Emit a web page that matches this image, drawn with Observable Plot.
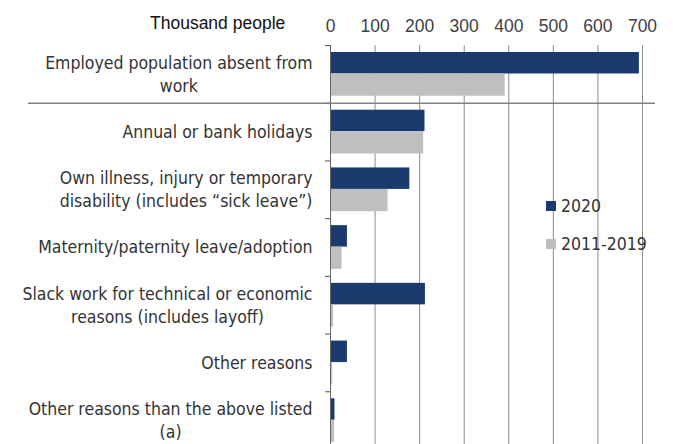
<!DOCTYPE html>
<html>
<head>
<meta charset="utf-8">
<script src="https://cdn.jsdelivr.net/npm/d3@7"></script>
<script src="https://cdn.jsdelivr.net/npm/@observablehq/plot@0.6"></script>
<style>
  html, body { margin: 0; padding: 0; background: #fff; overflow: hidden; }
  #wrap { position: relative; width: 673px; height: 444px; }
  .ov { position: absolute; font-size: 17.5px; color: #333; white-space: nowrap; line-height: 18px; }
  .lg { font-family: "DejaVu Sans Condensed", "DejaVu Sans", sans-serif; }
  .ar { font-family: "Liberation Sans", Arial, sans-serif; }
  .sw { position: absolute; width: 10px; height: 10px; }
</style>
</head>
<body>
<div id="wrap"></div>
<script>
const categories = [
  "Employed population absent from\nwork",
  "Annual or bank holidays",
  "Own illness, injury or temporary\ndisability (includes “sick leave”)",
  "Maternity/paternity leave/adoption",
  "Slack work for technical or economic\nreasons (includes layoff)",
  "Other reasons",
  "Other reasons than the above listed\n(a)"
];
const values2020 = [693, 212, 178, 38, 213, 38, 10];
const values2011_2019 = [392, 209, 129, 26, 7, 5, 9];
const seriesNames = ["2020", "2011-2019"];
const seriesColors = ["#1b3b6f", "#bfbfbf"];
const xTicks = [0, 100, 200, 300, 400, 500, 600, 700];
const unitLabel = "Thousand people";

const LABEL_FONT = '"DejaVu Sans Condensed", "DejaVu Sans", sans-serif';
const TICK_FONT = '"Liberation Sans", Arial, sans-serif';
const W = 673, H = 444, mTop = 45, mBottom = -5, mLeft = 330, mRight = 31;
const bw = (H - mTop - mBottom) / categories.length;

const rows2020 = categories.map((c, i) => ({category: c, value: values2020[i]}));
const rowsPast = categories.map((c, i) => ({category: c, value: values2011_2019[i]}));

// measure label widths so multi-line labels are centred inside a right-aligned block
const ctx = document.createElement("canvas").getContext("2d");
ctx.font = `17.5px ${LABEL_FONT}`;
const labelMarks = categories.map(c => {
  const w = Math.max(...c.split("\n").map(s => ctx.measureText(s).width));
  return Plot.text([c], {
    y: d => d, text: d => d, frameAnchor: "left", textAnchor: "middle",
    dx: -(18 + w / 2), dy: -1.5, lineHeight: 1.31, fill: "#333",
    fontFamily: LABEL_FONT, fontSize: 17.5
  });
});

const chart = Plot.plot({
  width: W, height: H,
  marginTop: mTop, marginBottom: mBottom, marginLeft: mLeft, marginRight: mRight,
  style: {fontFamily: TICK_FONT, fontSize: "17.5px", color: "#404040", background: "white"},
  x: {domain: [0, 700], axis: "top", ticks: xTicks, tickSize: 0, tickPadding: 14, label: null},
  y: {domain: categories, axis: null, padding: 0, round: false},
  marks: [
    Plot.ruleX(xTicks.slice(1), {stroke: "#8c8c8c", strokeWidth: 1}),
    Plot.barX(rows2020, {y: "category", x: "value", fill: seriesColors[0], insetTop: 7, insetBottom: bw - 28.5}),
    Plot.barX(rowsPast, {y: "category", x: "value", fill: seriesColors[1], insetTop: 28.5, insetBottom: 7}),
    Plot.ruleX([0], {stroke: "#666", strokeWidth: 1}),
    Plot.ruleY(categories, {y: d => d, dy: -bw / 2, x1: 0, x2: 0, insetLeft: -5, stroke: "#555"}),
    Plot.ruleY([categories[1]], {y: d => d, dy: -bw / 2, x1: 0, x2: 700, insetLeft: -302, insetRight: -13, stroke: "#808080", strokeWidth: 1.5}),
    ...labelMarks
  ]
});

const wrap = document.getElementById("wrap");
wrap.appendChild(chart);

const t = document.createElement("div");
t.className = "ov ar"; t.textContent = unitLabel;
t.style.left = "150px"; t.style.top = "14px"; t.style.color = "#111";
wrap.appendChild(t);

seriesNames.forEach((name, i) => {
  const top = 201 + i * 38;
  const sw = document.createElement("div");
  sw.className = "sw"; sw.style.background = seriesColors[i];
  sw.style.left = "546px"; sw.style.top = top + "px";
  wrap.appendChild(sw);
  const lb = document.createElement("div");
  lb.className = "ov lg"; lb.textContent = name;
  lb.style.left = "561px"; lb.style.top = (top - 4) + "px";
  wrap.appendChild(lb);
});
</script>
</body>
</html>
